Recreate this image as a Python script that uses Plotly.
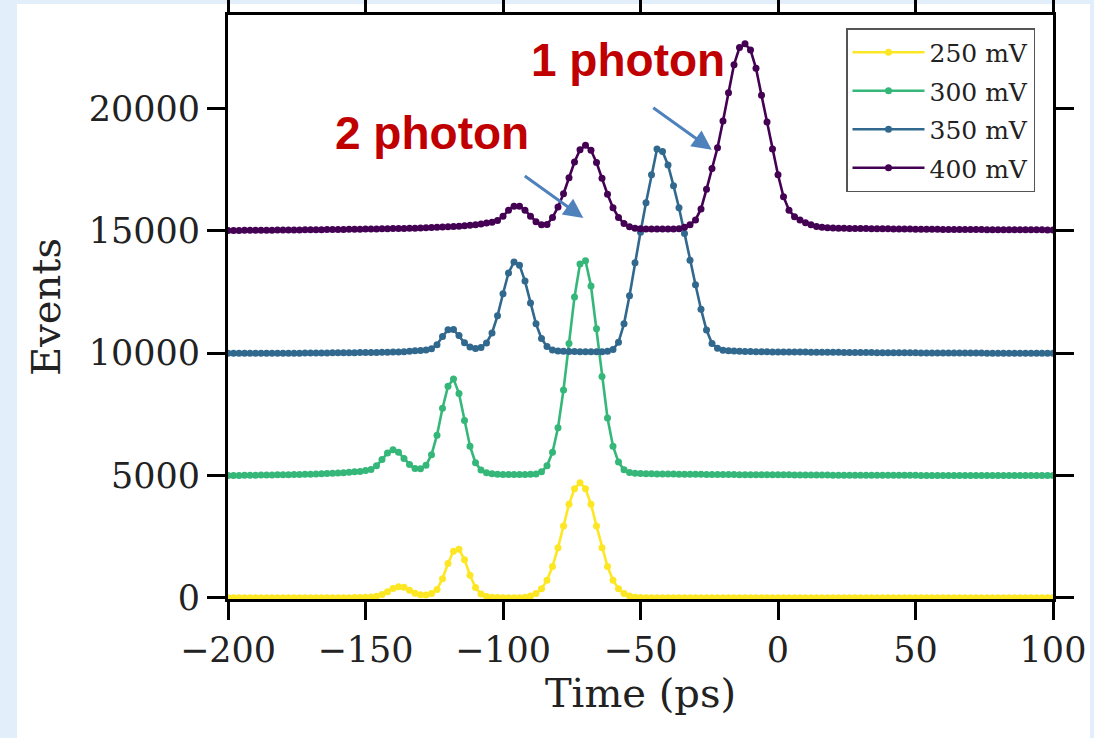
import plotly.graph_objects as go

# Time axis (ps), 2 ps bins
time_ps = list(range(-200, 101, 2))

# Events per series, one value per time bin
v250 = [
    0, 0, 0, 0, 0, 0, 0, 0, 0, 0,                      # -200..-182
    0, 0, 0, 0, 0, 0, 0, 0, 0, 0,                      # -180..-162
    0, 0, 5, 10, 15, 20, 35, 65, 130, 250,             # -160..-142
    380, 450, 430, 310, 190, 120, 110, 170, 340, 780,  # -140..-122
    1400, 1900, 1980, 1560, 920, 420, 150, 50, 20, 10, # -120..-102
    5, 0, 0, 5, 25, 70, 170, 365, 720, 1280,           # -100..-82
    2050, 2940, 3820, 4460, 4700, 4460, 3820, 2940, 2050, 1280,  # -80..-62
    720, 365, 170, 70, 25, 10, 0, 0, 0, 0,             # -60..-42
    0, 0, 0, 0, 0, 0, 0, 0, 0, 0,                      # -40..-22
    0, 0, 0, 0, 0, 0, 0, 0, 0, 0,                      # -20..-2
    0, 0, 0, 0, 0, 0, 0, 0, 0, 0,                      # 0..18
    0, 0, 0, 0, 0, 0, 0, 0, 0, 0,                      # 20..38
    0, 0, 0, 0, 0, 0, 0, 0, 0, 0,                      # 40..58
    0, 0, 0, 0, 0, 0, 0, 0, 0, 0,                      # 60..78
    0, 0, 0, 0, 0, 0, 0, 0, 0, 0,                      # 80..98
    0,                                                 # 100
]

v300 = [
    5000, 5000, 5005, 5010, 5010, 5015, 5020, 5020, 5025, 5030,
    5030, 5035, 5040, 5045, 5050, 5055, 5060, 5070, 5080, 5090,
    5100, 5110, 5130, 5150, 5160, 5200, 5250, 5400, 5650, 5920,
    6050, 5950, 5700, 5450, 5290, 5280, 5420, 5850, 6650, 7750,
    8650, 8950, 8350, 7250, 6200, 5520, 5220, 5110, 5070, 5050,
    5045, 5040, 5040, 5040, 5040, 5050, 5060, 5150, 5400, 5950,
    6950, 8500, 10400, 12300, 13650, 13780, 12750, 11000, 9050, 7350,
    6200, 5550, 5230, 5120, 5090, 5080, 5075, 5070, 5065, 5060,
    5060, 5058, 5055, 5052, 5050, 5048, 5046, 5045, 5043, 5040,
    5040, 5038, 5036, 5035, 5034, 5033, 5032, 5031, 5030, 5030,
    5030, 5028, 5026, 5025, 5024, 5022, 5020, 5020, 5018, 5016,
    5015, 5014, 5013, 5012, 5012, 5011, 5010, 5010, 5010, 5009,
    5008, 5008, 5007, 5007, 5006, 5006, 5005, 5005, 5005, 5004,
    5004, 5004, 5003, 5003, 5003, 5002, 5002, 5002, 5002, 5001,
    5001, 5001, 5001, 5000, 5000, 5000, 5000, 5000, 5000, 5000,
    5000,
]

v350 = [
    10000, 10000, 10000, 10000, 10000, 10000, 10000, 10000, 10000, 10000,
    10000, 10000, 10000, 10000, 10005, 10005, 10010, 10010, 10010, 10015,
    10015, 10020, 10020, 10020, 10025, 10025, 10030, 10030, 10035, 10040,
    10045, 10050, 10060, 10080, 10100, 10110, 10130, 10180, 10350, 10680,
    10960, 10970, 10720, 10430, 10250, 10190, 10230, 10420, 10830, 11530,
    12430, 13280, 13730, 13600, 12950, 12050, 11200, 10600, 10270, 10130,
    10090, 10080, 10075, 10070, 10065, 10060, 10060, 10060, 10065, 10080,
    10150, 10450, 11200, 12350, 13700, 14950, 16150, 17300, 18350, 18250,
    17700, 16850, 15950, 14900, 13800, 12800, 11800, 10950, 10400, 10200,
    10120, 10100, 10090, 10080, 10075, 10070, 10065, 10060, 10060, 10055,
    10055, 10050, 10050, 10050, 10045, 10045, 10040, 10040, 10040, 10035,
    10035, 10035, 10030, 10030, 10030, 10025, 10025, 10025, 10020, 10020,
    10020, 10020, 10015, 10015, 10015, 10015, 10010, 10010, 10010, 10010,
    10010, 10010, 10005, 10005, 10005, 10005, 10005, 10005, 10000, 10000,
    10000, 10000, 10000, 10000, 10000, 10000, 10000, 10000, 10000, 10000,
    10000,
]

v400 = [
    15020, 15020, 15022, 15024, 15025, 15027, 15028, 15030, 15032, 15034,
    15035, 15037, 15040, 15042, 15045, 15048, 15050, 15052, 15055, 15058,
    15060, 15063, 15066, 15070, 15073, 15076, 15080, 15084, 15088, 15092,
    15096, 15100, 15105, 15110, 15115, 15120, 15130, 15140, 15150, 15160,
    15170, 15180, 15195, 15210, 15230, 15250, 15280, 15320, 15360, 15430,
    15600, 15850, 16010, 16010, 15850, 15600, 15380, 15250, 15260, 15550,
    15980, 16520, 17170, 17820, 18320, 18500, 18300, 17800, 17150, 16500,
    15950, 15550, 15300, 15170, 15110, 15090, 15080, 15080, 15075, 15075,
    15075, 15080, 15090, 15150, 15250, 15450, 15900, 16700, 17550, 18400,
    19500, 20650, 21800, 22500, 22650, 22400, 21650, 20550, 19450, 18350,
    17300, 16400, 15850, 15580, 15450, 15330, 15250, 15180, 15150, 15130,
    15120, 15115, 15110, 15105, 15100, 15098, 15095, 15092, 15090, 15088,
    15085, 15083, 15080, 15078, 15076, 15074, 15072, 15070, 15068, 15066,
    15064, 15062, 15060, 15058, 15057, 15056, 15055, 15054, 15053, 15052,
    15051, 15050, 15050, 15049, 15048, 15047, 15046, 15045, 15044, 15043,
    15040,
]

series_names = ["250 mV", "300 mV", "350 mV", "400 mV"]
series_values = [v250, v300, v350, v400]
series_colors = ["#FDE725", "#35B779", "#31688E", "#440154"]

x_tickvals = [-200, -150, -100, -50, 0, 50, 100]
x_ticktext = ["\u2212200", "\u2212150", "\u2212100", "\u221250", "0", "50", "100"]
y_tickvals = [0, 5000, 10000, 15000, 20000]
y_ticktext = ["0", "5000", "10000", "15000", "20000"]

W, H = 1094, 738
L, R, T, B = 228, 1053, 15, 599

fig = go.Figure()
for i, (name, vals, col) in enumerate(zip(series_names, series_values, series_colors)):
    fig.add_trace(go.Scatter(
        x=time_ps, y=vals, name=name, mode="lines+markers",
        line=dict(color=col, width=2.6),
        marker=dict(color=col, size=7),
        legendgroup=name,
    ))

serif = "DejaVu Serif"
axis_common = dict(
    showline=True, linewidth=3, linecolor="black", mirror="allticks",
    ticks="outside", ticklen=18, tickwidth=3, tickcolor="black",
    showgrid=False, zeroline=False,
    tickfont=dict(family=serif, size=35, color="#222"),
    tickmode="array",
)

fig.update_layout(
    width=W, height=H,
    margin=dict(l=L, r=W - R, t=T, b=H - B, autoexpand=False),
    paper_bgcolor="#E2EEF9",
    plot_bgcolor="white",
    showlegend=True,
    legend=dict(
        x=(846 - L) / (R - L), y=(B - 28) / (B - T), xanchor="left", yanchor="top",
        bgcolor="white", bordercolor="#555", borderwidth=1.5,
        font=dict(family=serif, size=25, color="#222"),
        tracegroupgap=3, itemwidth=72,
    ),
    xaxis=dict(
        range=[-200, 100], tickvals=x_tickvals, ticktext=x_ticktext,
        title=dict(text="Time (ps)", font=dict(family=serif, size=40, color="#222"), standoff=4),
        **axis_common,
    ),
    yaxis=dict(
        range=[-50, 23830], tickvals=y_tickvals, ticktext=y_ticktext,
        title=dict(text="Events", font=dict(family=serif, size=40, color="#222"), standoff=16),
        **axis_common,
    ),
)

# white slide area behind the chart (light-blue slide margins around it)
fig.add_shape(type="rect", xref="paper", yref="paper", layer="below",
              x0=(17 - L) / (R - L), x1=(1090 - L) / (R - L),
              y0=(B - H) / (B - T), y1=(B - 4) / (B - T),
              fillcolor="white", line=dict(width=0))

red = "#C00000"
fig.add_annotation(xref="paper", yref="paper", x=(628 - L) / (R - L), y=(B - 60) / (B - T),
                   text="<b>1 photon</b>", showarrow=False, xanchor="center", yanchor="middle",
                   font=dict(family="Liberation Sans", size=46, color=red))
fig.add_annotation(xref="paper", yref="paper", x=(432 - L) / (R - L), y=(B - 133) / (B - T),
                   text="<b>2 photon</b>", showarrow=False, xanchor="center", yanchor="middle",
                   font=dict(family="Liberation Sans", size=46, color=red))

arrow_col = "#4F81BD"
fig.add_annotation(x=-24.1, y=18320, text="", showarrow=True, ax=-60, ay=-43,
                   arrowhead=2, arrowsize=1.3, arrowwidth=3, arrowcolor=arrow_col)
fig.add_annotation(x=-70.8, y=15530, text="", showarrow=True, ax=-60, ay=-43,
                   arrowhead=2, arrowsize=1.3, arrowwidth=3, arrowcolor=arrow_col)

fig.write_html(
    "out.html",
    config={"displayModeBar": False},
    post_script="document.body.style.margin='0';document.body.style.background='#E2EEF9';",
)
